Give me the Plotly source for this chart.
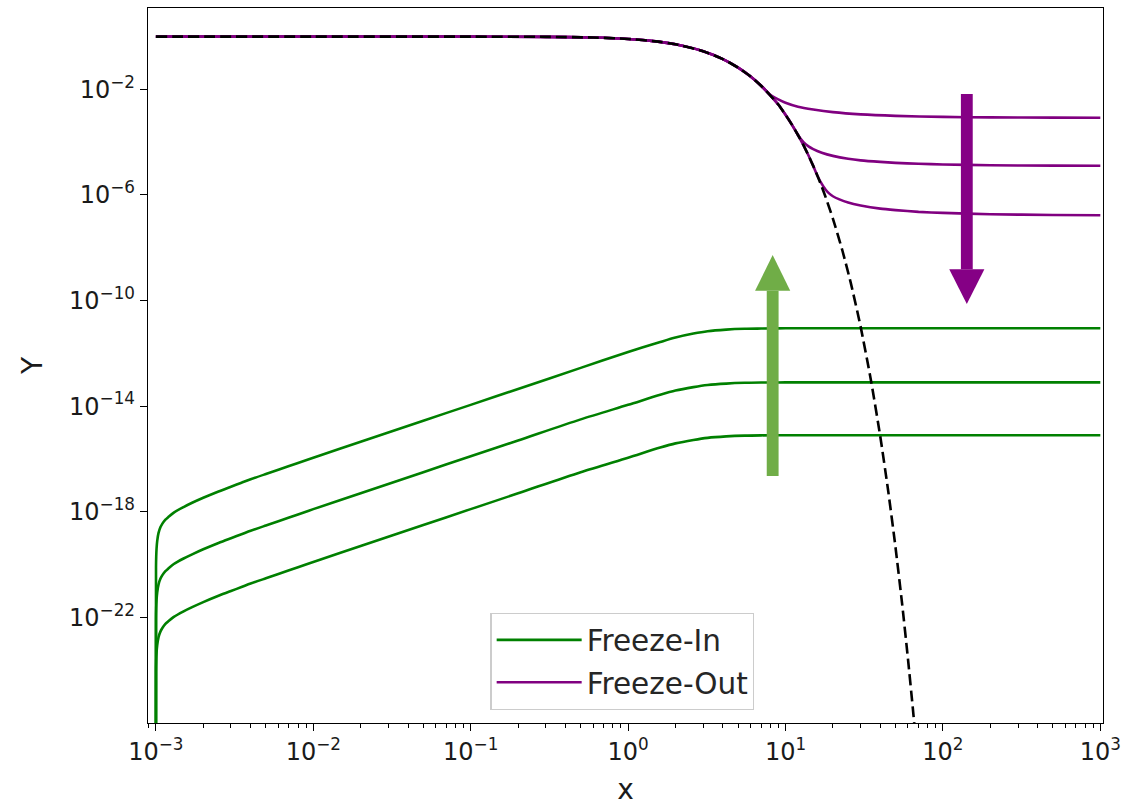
import plotly.graph_objects as go

# ---------------- data ----------------
# equilibrium abundance (dashed)
eq_x = [0.001, 0.01, 0.1, 0.3, 0.6, 1, 1.5, 2, 3, 4, 5, 6, 7, 8, 9, 10, 11, 12, 13, 14, 15, 16,
        17, 18, 20, 23, 26, 30, 35, 40, 45, 50, 55, 60, 65, 70]
eq_y = [0.99, 0.99, 0.988, 0.97, 0.915, 0.81, 0.656, 0.508, 0.277, 0.139, 0.0664, 0.0305, 0.0136,
        5.93e-3, 2.65e-3, 1.08e-3, 4.5e-4, 1.86e-4, 7.72e-5, 3.1e-5, 1.26e-5, 5.09e-6, 2.02e-6,
        8.07e-7, 1.27e-7, 7.68e-9, 4.56e-10, 1.03e-11, 8.62e-14, 7.05e-16, 5.64e-18, 4.44e-20,
        3.44e-22, 2.63e-24, 2.0e-26, 1.5e-28]

# freeze-out curves (purple)
fo1_x = [0.001, 0.01, 0.1, 0.3, 0.6, 1, 1.5, 2, 3, 4, 5, 6, 7, 8, 9, 10, 12, 15, 20, 30, 50,
         100, 200, 500, 1000]
fo1_y = [0.99, 0.99, 0.988, 0.97, 0.915, 0.81, 0.656, 0.508, 0.277, 0.139, 0.0664, 0.0305, 0.0137,
         6.2e-3, 4.17e-3, 3.09e-3, 2.19e-3, 1.72e-3, 1.365e-3, 1.122e-3, 9.86e-4, 9.02e-4,
         8.65e-4, 8.45e-4, 8.37e-4]

fo2_x = [0.001, 0.01, 0.1, 0.3, 0.6, 1, 1.5, 2, 3, 4, 5, 6, 7, 8, 9, 10, 11, 12, 13, 14, 15, 17,
         20, 25, 30, 40, 50, 70, 100, 200, 500, 1000]
fo2_y = [0.99, 0.99, 0.988, 0.97, 0.915, 0.81, 0.656, 0.508, 0.277, 0.139, 0.0664, 0.0305, 0.0136,
         5.93e-3, 2.65e-3, 1.08e-3, 4.5e-4, 1.87e-4, 1.0e-4, 6.92e-5, 5.43e-5, 3.98e-5, 3.02e-5,
         2.34e-5, 2.04e-5, 1.78e-5, 1.64e-5, 1.51e-5, 1.43e-5, 1.33e-5, 1.29e-5, 1.27e-5]

fo3_x = [0.001, 0.01, 0.1, 0.3, 0.6, 1, 1.5, 2, 3, 4, 5, 6, 7, 8, 9, 10, 11, 12, 13, 14, 15, 16,
         17, 18, 19, 20, 22, 25, 30, 40, 50, 70, 100, 200, 500, 1000]
fo3_y = [0.99, 0.99, 0.988, 0.97, 0.915, 0.81, 0.656, 0.508, 0.277, 0.139, 0.0664, 0.0305, 0.0136,
         5.93e-3, 2.65e-3, 1.08e-3, 4.5e-4, 1.86e-4, 7.72e-5, 3.1e-5, 1.26e-5, 5.13e-6, 2.63e-6,
         1.58e-6, 1.12e-6, 8.91e-7, 6.76e-7, 5.13e-7, 3.98e-7, 3.02e-7, 2.66e-7, 2.29e-7,
         2.09e-7, 1.86e-7, 1.74e-7, 1.70e-7]

# freeze-in curves (green)
fi_x = [1.0e-3, 1.002e-3, 1.005e-3, 1.01e-3, 1.02e-3, 1.04e-3, 1.07e-3, 1.1e-3, 1.15e-3, 1.2e-3,
        1.3e-3, 1.5e-3, 1.7e-3, 2e-3, 2.5e-3, 3e-3, 3.5e-3, 4e-3, 5e-3, 6e-3, 8e-3, 1e-2, 2e-2,
        5e-2, 0.1, 0.2, 0.5, 1, 1.6, 2, 2.6, 3.2, 4.2, 5.5, 7, 10, 30, 100, 1000]
fi1_y = [1e-30, 7.94e-21, 2.0e-20, 3.98e-20, 7.94e-20, 1.58e-19, 2.63e-19, 3.55e-19, 5.01e-19,
         6.31e-19, 9.33e-19, 1.51e-18, 2.19e-18, 3.39e-18, 5.89e-18, 8.91e-18, 1.26e-17,
         1.70e-17, 2.69e-17, 3.89e-17, 7.08e-17, 1.12e-16, 4.47e-16, 2.82e-15, 1.12e-14,
         4.47e-14, 2.82e-13, 1.12e-12, 2.69e-12, 3.98e-12, 5.62e-12, 6.92e-12, 7.94e-12,
         8.51e-12, 8.71e-12, 8.91e-12, 8.91e-12, 8.91e-12, 8.91e-12]
fi2_y = [1e-30, 8.91e-23, 2.24e-22, 4.47e-22, 8.91e-22, 1.78e-21, 2.95e-21, 3.98e-21, 5.62e-21,
         7.08e-21, 1.05e-20, 1.70e-20, 2.45e-20, 3.80e-20, 6.61e-20, 1.0e-19, 1.41e-19,
         1.91e-19, 3.02e-19, 4.37e-19, 7.94e-19, 1.26e-18, 5.01e-18, 3.16e-17, 1.26e-16,
         5.01e-16, 3.16e-15, 1.12e-14, 2.69e-14, 3.89e-14, 5.25e-14, 6.31e-14, 7.16e-14,
         7.67e-14, 7.85e-14, 7.94e-14, 7.94e-14, 7.94e-14, 7.94e-14]
fi3_y = [1e-30, 8.91e-25, 2.24e-24, 4.47e-24, 8.91e-24, 1.78e-23, 2.95e-23, 3.98e-23, 5.62e-23,
         7.08e-23, 1.05e-22, 1.70e-22, 2.45e-22, 3.80e-22, 6.61e-22, 1.0e-21, 1.41e-21,
         1.91e-21, 3.02e-21, 4.37e-21, 7.94e-21, 1.26e-20, 5.01e-20, 3.16e-19, 1.26e-18,
         5.01e-18, 3.16e-17, 1.12e-16, 2.69e-16, 3.89e-16, 5.25e-16, 6.31e-16, 7.16e-16,
         7.67e-16, 7.85e-16, 7.94e-16, 7.94e-16, 7.94e-16, 7.94e-16]

x_tickvals = [1e-3, 1e-2, 1e-1, 1e0, 1e1, 1e2, 1e3]
x_ticktext = ["10<sup>\u22123</sup>", "10<sup>\u22122</sup>", "10<sup>\u22121</sup>",
              "10<sup>0</sup>", "10<sup>1</sup>", "10<sup>2</sup>", "10<sup>3</sup>"]
y_tickvals = [1e-2, 1e-6, 1e-10, 1e-14, 1e-18, 1e-22]
y_ticktext = ["10<sup>\u22122</sup>", "10<sup>\u22126</sup>", "10<sup>\u221210</sup>",
              "10<sup>\u221214</sup>", "10<sup>\u221218</sup>", "10<sup>\u221222</sup>"]
x_minor = [9e-4] + [k * 10.0 ** e for e in range(-3, 3) for k in range(2, 10)]

GREEN = "#008000"
PURPLE = "#800080"
FONT = "DejaVu Sans"
LW = 2.6

fig = go.Figure()

for i, yy in enumerate([fi1_y, fi2_y, fi3_y]):
    fig.add_trace(go.Scatter(x=fi_x, y=yy, mode="lines", name="Freeze-In",
                             legendgroup="fi", showlegend=(i == 0),
                             line=dict(color=GREEN, width=LW, shape="spline", smoothing=0.8)))
for i, (xx, yy) in enumerate([(fo1_x, fo1_y), (fo2_x, fo2_y), (fo3_x, fo3_y)]):
    fig.add_trace(go.Scatter(x=xx, y=yy, mode="lines", name="Freeze-Out",
                             legendgroup="fo", showlegend=(i == 0),
                             line=dict(color=PURPLE, width=LW, shape="spline", smoothing=0.6)))
fig.add_trace(go.Scatter(x=eq_x, y=eq_y, mode="lines", showlegend=False,
                         line=dict(color="black", width=LW, dash="11px,5px",
                                   shape="spline", smoothing=0.6)))

# arrows (decoration, paper coordinates of the plot area)
def arrow(xc, y_tail, y_base, y_tip, color):
    hw_shaft = 0.0062
    hw_head = 0.0184
    return [
        dict(type="rect", xref="paper", yref="paper", x0=xc - hw_shaft, x1=xc + hw_shaft,
             y0=y_tail, y1=y_base, fillcolor=color, line=dict(width=0), layer="above"),
        dict(type="path", xref="paper", yref="paper",
             path=f"M {xc - hw_head} {y_base} L {xc + hw_head} {y_base} L {xc} {y_tip} Z",
             fillcolor=color, line=dict(width=0), layer="above"),
    ]

shapes = arrow(0.6541, 0.3455, 0.6046, 0.6545, "#70AD47") + arrow(0.8574, 0.8797, 0.6345, 0.586, "#850085")

axis_common = dict(type="log", showgrid=False, zeroline=False, showline=True, linecolor="black",
                   linewidth=1.4, mirror=True, ticks="outside", ticklen=7, tickwidth=1.3,
                   tickcolor="black", tickmode="array", automargin=False,
                   tickfont=dict(family=FONT, size=24, color="#1a1a1a"))

fig.update_layout(
    width=1125, height=806,
    margin=dict(l=148, r=22, t=8, b=83),
    paper_bgcolor="white", plot_bgcolor="white",
    font=dict(family=FONT, color="#1a1a1a"),
    xaxis=dict(axis_common, range=[-3.05, 3.017], tickvals=x_tickvals, ticktext=x_ticktext,
               minor=dict(tickvals=x_minor, ticks="outside", ticklen=4, tickwidth=1,
                          tickcolor="black"),
               title=dict(text="x", font=dict(family=FONT, size=28, color="#1a1a1a"), standoff=36)),
    yaxis=dict(axis_common, range=[-26.0, 1.08], tickvals=y_tickvals, ticktext=y_ticktext,
               title=dict(text="Y", font=dict(family=FONT, size=28, color="#1a1a1a"), standoff=18)),
    legend=dict(x=0.3585, y=0.154, xanchor="left", yanchor="top",
                font=dict(family=FONT, size=29.5, color="#262626"),
                bgcolor="rgba(255,255,255,0.85)", bordercolor="#cccccc", borderwidth=1.3,
                itemwidth=85, tracegroupgap=1),
    shapes=shapes,
    showlegend=True,
)

fig.write_html("out.html",
               config={"displayModeBar": False},
               post_script="document.body.style.margin='0px';"
                           "document.documentElement.style.overflow='hidden';")
